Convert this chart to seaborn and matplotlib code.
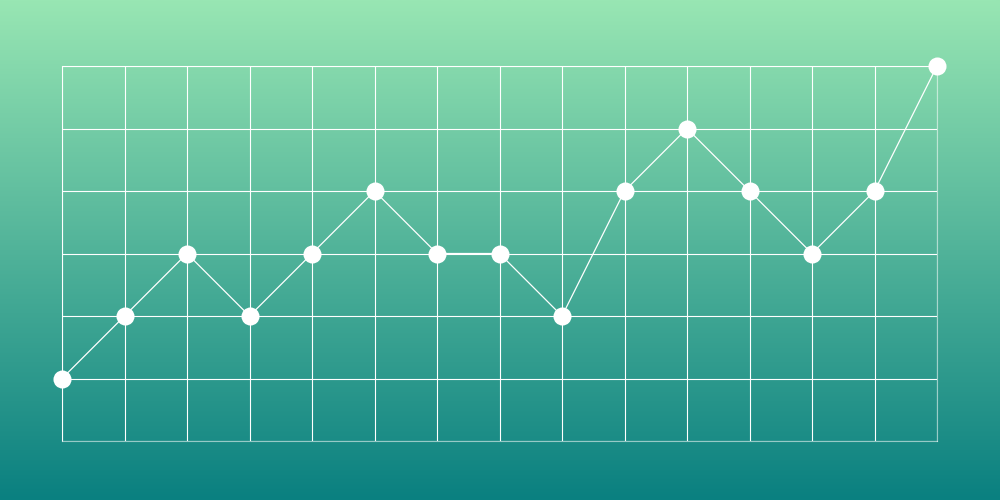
import numpy as np
import pandas as pd
import matplotlib
matplotlib.use("Agg")
import matplotlib.pyplot as plt
import seaborn as sns
from matplotlib.colors import LinearSegmentedColormap

x_values = list(range(15))
y_values = [1, 2, 3, 2, 3, 4, 3, 3, 2, 4, 5, 4, 3, 4, 6]

top_color = "#98e6b3"
bottom_color = "#0a8080"

sns.set_theme(style="white")

fig = plt.figure(figsize=(10, 5), dpi=100)

bg = fig.add_axes([0, 0, 1, 1])
bg.set_axis_off()
cmap = LinearSegmentedColormap.from_list("bg", [bottom_color, top_color])
grad = np.linspace(0, 1, 256).reshape(-1, 1)
bg.imshow(grad, aspect="auto", cmap=cmap, origin="lower", extent=[0, 1, 0, 1])
bg.set_xlim(0, 1)
bg.set_ylim(0, 1)

ax = fig.add_axes([0.062, 0.118, 0.875, 0.75])
ax.patch.set_alpha(0)
df = pd.DataFrame({"x": x_values, "y": y_values})

ax.set_xlim(0, 14)
ax.set_ylim(0, 6)
ax.set_xticks(range(15))
ax.set_yticks(range(7))
ax.grid(True, color=(1, 1, 1, 0.55), linewidth=0.8)
ax.tick_params(length=0, labelbottom=False, labelleft=False)
for s in ax.spines.values():
    s.set_color((1, 1, 1, 0.55))
    s.set_linewidth(0.8)

sns.lineplot(data=df, x="x", y="y", ax=ax, color="white", linewidth=0.9,
             marker="o", markersize=13, markeredgewidth=0, clip_on=False)
for line in ax.lines:
    line.set_clip_on(False)
ax.set_xlabel("")
ax.set_ylabel("")

fig.savefig("out.png", dpi=100)
